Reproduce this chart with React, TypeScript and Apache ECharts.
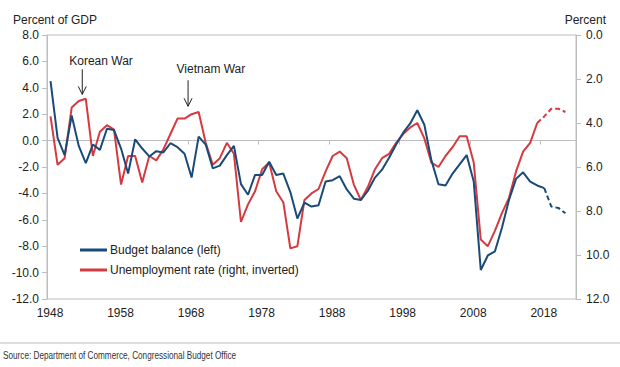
import React, { useEffect, useRef } from 'react';
import * as echarts from 'echarts';

const FIRST_YEAR = 1948;
const LAST_AXIS_YEAR = 2023;

// Budget balance, percent of GDP (left axis), 1948..2018 actual
const budgetActual = [
  4.5, 0.2, -1.1, 1.9, -0.4, -1.7, -0.3, -0.7, 0.9, 0.8,
  -0.6, -2.5, 0.1, -0.6, -1.2, -0.8, -0.9, -0.2, -0.5, -1.0,
  -2.8, 0.3, -0.3, -2.1, -1.9, -1.1, -0.4, -3.3, -4.1, -2.6,
  -2.6, -1.6, -2.6, -2.5, -3.9, -5.9, -4.7, -5.0, -4.9, -3.1,
  -3.0, -2.7, -3.7, -4.4, -4.5, -3.8, -2.8, -2.2, -1.3, -0.3,
  0.6, 1.3, 2.3, 1.2, -1.5, -3.3, -3.4, -2.5, -1.8, -1.1,
  -3.1, -9.8, -8.7, -8.4, -6.6, -4.5, -2.9, -2.4, -3.1, -3.4,
  -3.6,
];
// Budget balance projection 2019..2021
const budgetProjection = [-5.0, -5.1, -5.5];

// Unemployment rate, percent (right axis, inverted), 1948..2017 actual
const unempActual = [
  3.7, 5.9, 5.6, 3.3, 3.0, 2.9, 5.5, 4.4, 4.1, 4.3,
  6.8, 5.5, 5.5, 6.7, 5.5, 5.7, 5.2, 4.5, 3.8, 3.8,
  3.6, 3.5, 4.9, 5.9, 5.6, 4.9, 5.4, 8.5, 7.7, 7.1,
  6.1, 5.8, 7.1, 7.6, 9.7, 9.6, 7.5, 7.2, 7.0, 6.2,
  5.5, 5.3, 5.6, 6.8, 7.5, 6.9, 6.1, 5.6, 5.4, 4.9,
  4.5, 4.2, 4.0, 4.7, 5.8, 6.0, 5.5, 5.1, 4.6, 4.6,
  5.8, 9.3, 9.6, 8.9, 8.1, 7.4, 6.2, 5.3, 4.9, 4.0,
];
// Unemployment projection 2018..2021
const unempProjection = [3.7, 3.35, 3.35, 3.5];

const xTickYears = [1948, 1958, 1968, 1978, 1988, 1998, 2008, 2018];

const annotations = [
  { label: 'Korean War', year: 1953, top: 5.4, tip: 3.5, textDx: -13, textDy: -8 },
  { label: 'Vietnam War', year: 1968, top: 4.57, tip: 2.6, textDx: -11.5, textDy: -11 },
];

const BLUE = '#1a4a78';
const RED = '#d43a40';
const GRAY = '#bdbdbd';
const TEXT = '#222222';
const FONT = '"Liberation Sans", Arial, sans-serif';

// x position: years since 1948, points sit mid-year
const toX = (year: number) => year - FIRST_YEAR + 0.5;

export default function App() {
  const ref = useRef<HTMLDivElement>(null);

  useEffect(() => {
    if (!ref.current) return;
    const chart = echarts.init(ref.current, undefined, { renderer: 'svg' });

    const budgetData = budgetActual.map((v, i) => [toX(FIRST_YEAR + i), v]);
    const lastBudgetYear = FIRST_YEAR + budgetActual.length - 1;
    const budgetProjData = [
      [toX(lastBudgetYear), budgetActual[budgetActual.length - 1]],
      ...budgetProjection.map((v, i) => [toX(lastBudgetYear + 1 + i), v]),
    ];
    const unempData = unempActual.map((v, i) => [toX(FIRST_YEAR + i), v]);
    const lastUnempYear = FIRST_YEAR + unempActual.length - 1;
    const unempProjData = [
      [toX(lastUnempYear), unempActual[unempActual.length - 1]],
      ...unempProjection.map((v, i) => [toX(lastUnempYear + 1 + i), v]),
    ];

    const tickSet = new Set(xTickYears.map((y) => y - FIRST_YEAR));

    chart.setOption({
      animation: false,
      textStyle: { fontFamily: FONT },
      grid: {
        left: 47,
        right: 44,
        top: 35,
        bottom: 68,
        show: true,
        borderColor: GRAY,
        borderWidth: 1,
      },
      legend: {
        orient: 'vertical',
        left: 75,
        top: 239,
        itemWidth: 27,
        itemHeight: 3,
        itemGap: 8,
        icon: 'rect',
        data: ['Budget balance (left)', 'Unemployment rate (right, inverted)'],
        textStyle: { fontSize: 12, color: TEXT, fontFamily: FONT, padding: [0, 0, 0, -2] },
      },
      xAxis: {
        type: 'value',
        min: 0,
        max: LAST_AXIS_YEAR - FIRST_YEAR,
        interval: 10,
        axisLine: { show: true, lineStyle: { color: GRAY } },
        axisTick: { show: true, length: 4, lineStyle: { color: GRAY } },
        splitLine: { show: false },
        axisLabel: {
          margin: 8,
          fontSize: 12,
          color: TEXT,
          fontFamily: FONT,
          padding: [0, 0, 0, 6],
          showMaxLabel: false,
          formatter: (v: number) => (tickSet.has(v) ? String(v + FIRST_YEAR) : ''),
        },
      },
      yAxis: [
        {
          type: 'value',
          min: -12,
          max: 8,
          interval: 2,
          position: 'left',
          axisLine: { show: true, lineStyle: { color: GRAY } },
          axisTick: { show: true, length: 5, lineStyle: { color: GRAY } },
          splitLine: { show: false },
          axisLabel: {
            margin: 8,
            fontSize: 12,
            color: TEXT,
            fontFamily: FONT,
            formatter: (v: number) => v.toFixed(1),
          },
        },
        {
          type: 'value',
          min: 0,
          max: 12,
          interval: 2,
          inverse: true,
          position: 'right',
          axisLine: { show: true, lineStyle: { color: GRAY } },
          axisTick: { show: true, length: 5, lineStyle: { color: GRAY } },
          splitLine: { show: false },
          axisLabel: {
            margin: 10,
            fontSize: 12,
            color: TEXT,
            fontFamily: FONT,
            formatter: (v: number) => v.toFixed(1),
          },
        },
      ],
      series: [
        {
          name: 'Unemployment rate (right, inverted)',
          type: 'line',
          yAxisIndex: 1,
          data: unempData,
          symbol: 'none',
          color: RED,
          lineStyle: { width: 2, color: RED },
          z: 2,
        },
        {
          name: 'Unemployment projection',
          type: 'line',
          yAxisIndex: 1,
          data: unempProjData,
          symbol: 'none',
          color: RED,
          lineStyle: { width: 2, color: RED, type: [5, 3] },
          z: 2,
        },
        {
          name: 'Budget balance (left)',
          type: 'line',
          yAxisIndex: 0,
          data: budgetData,
          symbol: 'none',
          color: BLUE,
          lineStyle: { width: 2, color: BLUE },
          z: 3,
        },
        {
          name: 'Budget projection',
          type: 'line',
          yAxisIndex: 0,
          data: budgetProjData,
          symbol: 'none',
          color: BLUE,
          lineStyle: { width: 2, color: BLUE, type: [5, 3] },
          z: 3,
        },
      ],
    });

    const graphics: any[] = [
      {
        type: 'text',
        left: 13,
        top: 14,
        style: { text: 'Percent of GDP', fontSize: 12, fill: TEXT, fontFamily: FONT },
      },
      {
        type: 'text',
        right: 14,
        top: 14,
        style: { text: 'Percent', fontSize: 12, fill: TEXT, fontFamily: FONT },
      },
      {
        type: 'line',
        shape: { x1: 0, y1: 343, x2: 620, y2: 343 },
        style: { stroke: GRAY, lineWidth: 1 },
      },
      {
        type: 'text',
        x: 3,
        y: 356,
        scaleX: 0.82,
        style: {
          text: 'Source: Department of Commerce, Congressional Budget Office',
          fontSize: 10,
          fill: '#333333',
          fontFamily: FONT,
          textVerticalAlign: 'middle',
          verticalAlign: 'middle',
        },
      },
    ];

    annotations.forEach((a) => {
      const top = chart.convertToPixel({ gridIndex: 0 }, [a.year - FIRST_YEAR, a.top]) as number[];
      const tip = chart.convertToPixel({ gridIndex: 0 }, [a.year - FIRST_YEAR, a.tip]) as number[];
      graphics.push(
        {
          type: 'line',
          shape: { x1: top[0], y1: top[1], x2: tip[0], y2: tip[1] },
          style: { stroke: TEXT, lineWidth: 1 },
          z: 10,
        },
        {
          type: 'polyline',
          shape: { points: [[tip[0] - 4, tip[1] - 8], [tip[0], tip[1]], [tip[0] + 4, tip[1] - 8]] },
          style: { stroke: TEXT, lineWidth: 1, fill: 'none' },
          z: 10,
        },
        {
          type: 'text',
          x: top[0] + a.textDx,
          y: top[1] + a.textDy,
          style: {
            text: a.label,
            fontSize: 12,
            fill: TEXT,
            fontFamily: FONT,
            verticalAlign: 'middle',
          },
          z: 10,
        }
      );
    });

    chart.setOption({ graphic: graphics });

    return () => chart.dispose();
  }, []);

  return (
    <div
      ref={ref}
      style={{ position: 'absolute', left: 0, top: 0, width: 620, height: 367, background: '#ffffff' }}
    />
  );
}
